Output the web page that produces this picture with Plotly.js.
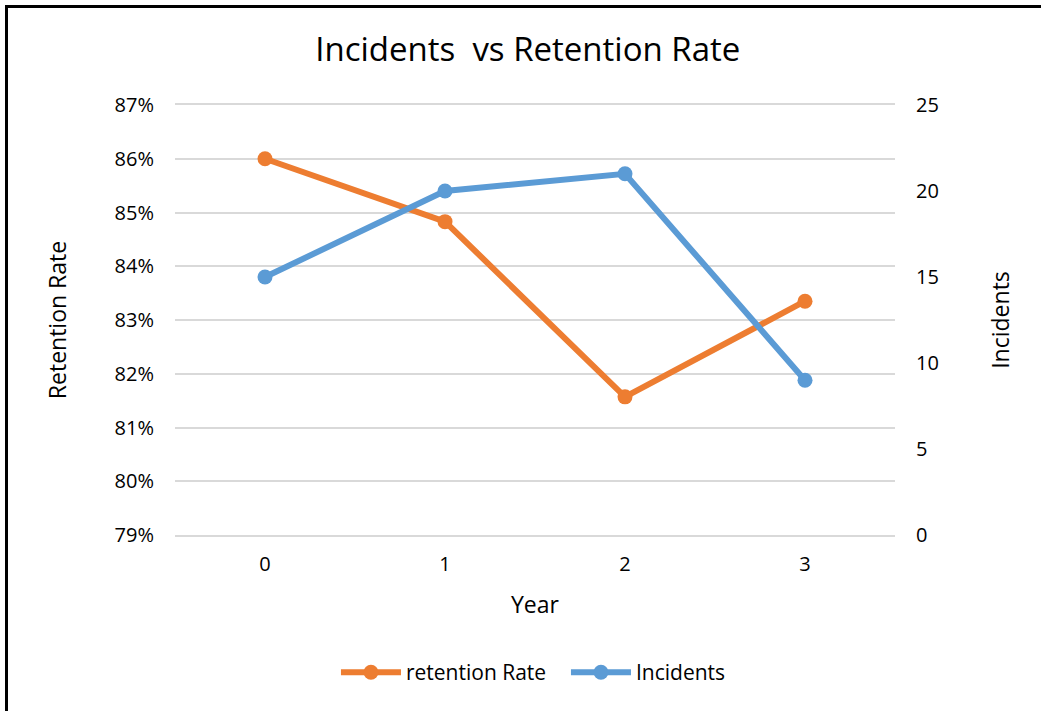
<!DOCTYPE html>
<html>
<head>
<meta charset="utf-8">
<script src="https://cdn.plot.ly/plotly-3.0.1.min.js"></script>
<style>
  html, body { margin: 0; padding: 0; background: #fff; }
  #wrap { position: relative; width: 1041px; height: 711px; overflow: hidden; }
  #chart { position: absolute; left: 0; top: 0; width: 1041px; height: 711px; }
  #frame { position: absolute; left: 5px; top: 5px; width: 1100px; height: 800px;
           border-left: 3px solid #000; border-top: 3px solid #000; pointer-events: none; }
</style>
</head>
<body>
<div id="wrap">
  <div id="chart"></div>
  <div id="frame"></div>
</div>
<script>
// Year index on the x axis
const years = [0, 1, 2, 3];
// Retention rate per year (fraction)
const retentionRate = [0.860, 0.8483, 0.8157, 0.8335];
// Incident counts per year
const incidents = [15, 20, 21, 9];

const FONT = '"Open Sans", Lato, sans-serif';
const ORANGE = '#ED7D31';
const BLUE = '#5B9BD5';
const GRID = '#d9d9d9';

const traces = [
  {
    x: years, y: retentionRate, name: 'retention Rate', type: 'scatter', mode: 'lines+markers',
    line: { color: ORANGE, width: 6 }, marker: { color: ORANGE, size: 15 }, yaxis: 'y'
  },
  {
    x: years, y: incidents, name: 'Incidents', type: 'scatter', mode: 'lines+markers',
    line: { color: BLUE, width: 6 }, marker: { color: BLUE, size: 15 }, yaxis: 'y2'
  }
];

const layout = {
  width: 1041, height: 711,
  margin: { l: 175, r: 146, t: 105, b: 176 },
  paper_bgcolor: '#fff', plot_bgcolor: '#fff',
  font: { family: FONT, size: 20, color: '#000' },
  title: { text: 'Incidents  vs Retention Rate', x: 0.507, xanchor: 'center', y: 0.93, yanchor: 'middle',
           font: { family: FONT, size: 33, color: '#000' } },
  showlegend: true,
  legend: { orientation: 'h', x: 0.543, xanchor: 'center', y: -0.32, yanchor: 'middle',
            font: { family: FONT, size: 21, color: '#000' }, itemwidth: 60,
            entrywidth: 155, entrywidthmode: 'pixels', traceorder: 'normal' },
  xaxis: {
    range: [-0.5, 3.5], tickvals: years, ticktext: years.map(String),
    showgrid: false, zeroline: false, ticks: '',
    showline: true, mirror: true, linecolor: GRID, linewidth: 2,
    tickfont: { family: FONT, size: 20 }, ticklabelstandoff: 10,
    title: { text: 'Year', font: { family: FONT, size: 23 }, standoff: 21 }
  },
  yaxis: {
    range: [0.79, 0.87], dtick: 0.01, tick0: 0.79, tickformat: '.0%',
    showgrid: true, gridcolor: GRID, gridwidth: 2, zeroline: false, showline: false, ticks: '',
    tickfont: { family: FONT, size: 20 }, ticklabelstandoff: 20,
    title: { text: 'Retention Rate', font: { family: FONT, size: 23 }, standoff: 41 }
  },
  yaxis2: {
    range: [0, 25], dtick: 5, tick0: 0, overlaying: 'y', side: 'right',
    showgrid: false, zeroline: false, showline: false, ticks: '',
    tickfont: { family: FONT, size: 20 }, ticklabelstandoff: 20,
    title: { text: 'Incidents', font: { family: FONT, size: 23 }, standoff: 55 }
  }
};

Plotly.newPlot('chart', traces, layout, { displayModeBar: false, staticPlot: true });
</script>
</body>
</html>
